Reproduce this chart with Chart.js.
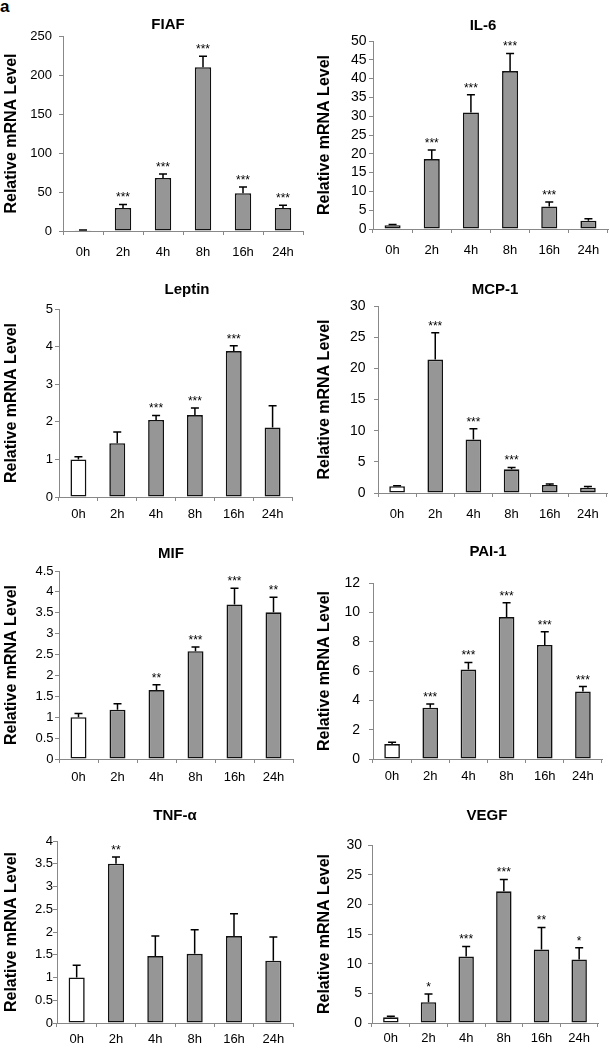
<!DOCTYPE html>
<html>
<head>
<meta charset="utf-8">
<script src="https://cdn.jsdelivr.net/npm/chart.js@4.4.1/dist/chart.umd.min.js"></script>
<style>
  html, body { margin: 0; padding: 0; background: #fff; }
  body { width: 610px; height: 1048px; position: relative; overflow: hidden; font-family: "Liberation Sans", Arial, sans-serif; }
  canvas { position: absolute; }
  #lab { position: absolute; left: 0; top: -2px; font: bold 17px/17px "Liberation Sans", Arial, sans-serif; color: #000; }
</style>
</head>
<body>
<div id="lab">a</div>
<script>
// ---- data ----
const CATEGORIES = ['0h', '2h', '4h', '8h', '16h', '24h'];

const FIAF_MEAN  = [1, 29.5, 68, 210, 48.5, 29.5];
const FIAF_SD    = [0.3, 4.5, 5, 14, 8, 3.5];
const FIAF_STARS = ['', '***', '***', '***', '***', '***'];
const FIAF_Y     = [0, 250, 50];

const IL6_MEAN  = [1, 18.6, 31, 42, 6, 2.2];
const IL6_SD    = [0.2, 2.4, 4.7, 4.7, 1.2, 0.5];
const IL6_STARS = ['', '***', '***', '***', '***', ''];
const IL6_Y     = [0, 50, 5];

const LEPTIN_MEAN  = [1.0, 1.43, 2.05, 2.18, 3.88, 1.85];
const LEPTIN_SD    = [0.07, 0.3, 0.12, 0.19, 0.14, 0.58];
const LEPTIN_STARS = ['', '', '***', '***', '***', ''];
const LEPTIN_Y     = [0, 5, 1];

const MCP1_MEAN  = [1.1, 21.4, 8.6, 3.8, 1.3, 0.86];
const MCP1_SD    = [0.05, 4.3, 1.7, 0.3, 0.15, 0.2];
const MCP1_STARS = ['', '***', '***', '***', '', ''];
const MCP1_Y     = [0, 30, 5];

const MIF_MEAN  = [1.0, 1.18, 1.65, 2.58, 3.7, 3.51];
const MIF_SD    = [0.09, 0.14, 0.13, 0.1, 0.39, 0.36];
const MIF_STARS = ['', '', '**', '***', '***', '**'];
const MIF_Y     = [0, 4.5, 0.5];

const PAI1_MEAN  = [1.02, 3.5, 6.1, 9.68, 7.78, 4.6];
const PAI1_SD    = [0.13, 0.25, 0.48, 0.97, 0.9, 0.34];
const PAI1_STARS = ['', '***', '***', '***', '***', '***'];
const PAI1_Y     = [0, 12, 2];

const TNF_MEAN  = [1.0, 3.5, 1.47, 1.52, 1.91, 1.37];
const TNF_SD    = [0.27, 0.15, 0.44, 0.53, 0.49, 0.52];
const TNF_STARS = ['', '**', '', '', '', ''];
const TNF_Y     = [0, 4, 0.5];

const VEGF_MEAN  = [0.95, 3.5, 11.2, 22.2, 12.4, 10.7];
const VEGF_SD    = [0.2, 1.4, 1.7, 2.0, 3.7, 2.0];
const VEGF_STARS = ['', '*', '***', '***', '**', '*'];
const VEGF_Y     = [0, 30, 5];

const TITLES = ['FIAF', 'IL-6', 'Leptin', 'MCP-1', 'MIF', 'PAI-1', 'TNF-\u03B1', 'VEGF'];
const Y_TITLE = 'Relative mRNA Level';

// ---- layout (positions/styles only) ----
const FONT = '"Liberation Sans", Arial, sans-serif';
const PANELS = [
  {title: TITLES[0], mean: FIAF_MEAN,   sd: FIAF_SD,   stars: FIAF_STARS,   y: FIAF_Y,
   L: 0,   T: 0,   W: 305, H: 262, pt: 36, pr: 2,  yW: 63, xH: 31, xPad: 10, yPad: 7,   yFs: 13, tx: 168, ty: 25},
  {title: TITLES[1], mean: IL6_MEAN,    sd: IL6_SD,    stars: IL6_STARS,    y: IL6_Y,
   L: 313, T: 0,   W: 297, H: 262, pt: 41, pr: 2,  yW: 60, xH: 33, xPad: 10, yPad: 2.5, yFs: 14, tx: 483, ty: 26},
  {title: TITLES[2], mean: LEPTIN_MEAN, sd: LEPTIN_SD, stars: LEPTIN_STARS, y: LEPTIN_Y,
   L: 0,   T: 262, W: 305, H: 262, pt: 47, pr: 13, yW: 59, xH: 27, xPad: 6,  yPad: 2,   yFs: 13, tx: 187, ty: 290},
  {title: TITLES[3], mean: MCP1_MEAN,   sd: MCP1_SD,   stars: MCP1_STARS,   y: MCP1_Y,
   L: 313, T: 262, W: 297, H: 262, pt: 44, pr: 3,  yW: 65, xH: 31, xPad: 10, yPad: 8.5, yFs: 14, tx: 495, ty: 290},
  {title: TITLES[4], mean: MIF_MEAN,    sd: MIF_SD,    stars: MIF_STARS,    y: MIF_Y,
   L: 0,   T: 524, W: 305, H: 262, pt: 47, pr: 12, yW: 59, xH: 27, xPad: 7,  yPad: 1.5, yFs: 13, tx: 171, ty: 554},
  {title: TITLES[5], mean: PAI1_MEAN,   sd: PAI1_SD,   stars: PAI1_STARS,   y: PAI1_Y,
   L: 313, T: 524, W: 297, H: 262, pt: 59, pr: 8,  yW: 60, xH: 27, xPad: 6,  yPad: 9,   yFs: 14, tx: 488, ty: 552},
  {title: TITLES[6], mean: TNF_MEAN,    sd: TNF_SD,    stars: TNF_STARS,    y: TNF_Y,
   L: 0,   T: 786, W: 305, H: 262, pt: 55, pr: 12, yW: 57, xH: 25, xPad: 5,  yPad: 0,   yFs: 13, tx: 175, ty: 816},
  {title: TITLES[7], mean: VEGF_MEAN,   sd: VEGF_SD,   stars: VEGF_STARS,   y: VEGF_Y,
   L: 313, T: 786, W: 297, H: 262, pt: 59, pr: 12, yW: 59, xH: 25, xPad: 4,  yPad: 6,   yFs: 14, tx: 487, ty: 816}
];

const overlay = {
  id: 'overlay',
  afterDatasetsDraw(chart, args, o) {
    const ctx = chart.ctx;
    const ys = chart.scales.y;
    const meta = chart.getDatasetMeta(0);
    ctx.save();
    ctx.strokeStyle = '#000';
    ctx.lineWidth = 1.5;
    ctx.fillStyle = '#000';
    ctx.font = '12px ' + FONT;
    ctx.textAlign = 'center';
    ctx.textBaseline = 'alphabetic';
    meta.data.forEach((bar, i) => {
      const top = ys.getPixelForValue(o.mean[i]);
      const et = ys.getPixelForValue(o.mean[i] + o.sd[i]);
      ctx.beginPath();
      ctx.moveTo(bar.x, top);
      ctx.lineTo(bar.x, et);
      ctx.moveTo(bar.x - 4, et);
      ctx.lineTo(bar.x + 4, et);
      ctx.stroke();
      if (o.stars[i]) ctx.fillText(o.stars[i], bar.x, et - 3);
    });
    ctx.restore();
  },
  afterDraw(chart, args, o) {
    const ctx = chart.ctx;
    ctx.save();
    ctx.font = 'bold 15px ' + FONT;
    ctx.fillStyle = '#000';
    ctx.textAlign = 'center';
    ctx.textBaseline = 'middle';
    ctx.fillText(o.title, o.tx, o.ty);
    ctx.restore();
  }
};

Chart.defaults.font.family = FONT;
Chart.defaults.color = '#000';

PANELS.forEach((p, k) => {
  const cv = document.createElement('canvas');
  cv.width = p.W; cv.height = p.H;
  cv.style.left = p.L + 'px'; cv.style.top = p.T + 'px';
  cv.style.width = p.W + 'px'; cv.style.height = p.H + 'px';
  document.body.appendChild(cv);
  new Chart(cv, {
    type: 'bar',
    data: {
      labels: CATEGORIES,
      datasets: [{
        data: p.mean,
        backgroundColor: p.mean.map((v, i) => i === 0 ? '#ffffff' : '#969696'),
        borderColor: '#111',
        borderWidth: 1.6,
        borderSkipped: false,
        barPercentage: 0.41,
        categoryPercentage: 1
      }]
    },
    options: {
      responsive: false,
      animation: false,
      devicePixelRatio: 1,
      layout: {padding: {top: p.pt, right: p.pr, bottom: 0, left: 0}},
      plugins: {
        legend: {display: false},
        tooltip: {enabled: false},
        title: {display: false},
        overlay: {mean: p.mean, sd: p.sd, stars: p.stars, title: p.title, tx: p.tx - p.L, ty: p.ty - p.T}
      },
      scales: {
        x: {
          offset: true,
          grid: {display: true, drawOnChartArea: false, offset: true, tickLength: 4, color: '#888'},
          border: {display: true, color: '#888', width: 1},
          ticks: {font: {size: 13}, padding: p.xPad, color: '#000', maxRotation: 0, autoSkip: false},
          afterFit: s => { s.height = p.xH; }
        },
        y: {
          min: p.y[0], max: p.y[1],
          grid: {display: true, drawOnChartArea: false, tickLength: 4, color: '#888'},
          border: {display: true, color: '#888', width: 1},
          ticks: {stepSize: p.y[2], font: {size: p.yFs}, padding: p.yPad, color: '#000', autoSkip: false,
                  callback: v => String(+v.toFixed(2))},
          title: {display: true, text: Y_TITLE, font: {size: 16, weight: 'bold'}, padding: {top: 2, bottom: 0}, color: '#000'},
          afterFit: s => { s.width = p.yW; }
        }
      }
    },
    plugins: [overlay]
  });
});
</script>
</body>
</html>
